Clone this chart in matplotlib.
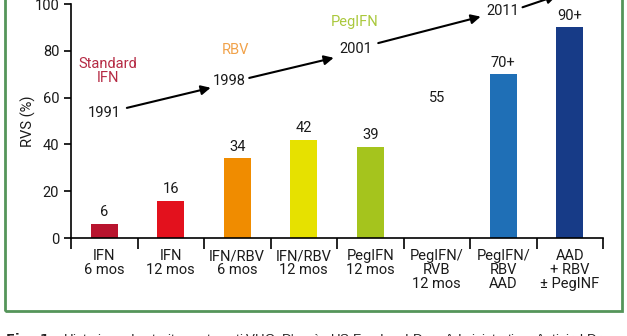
import matplotlib.pyplot as plt
from matplotlib.patches import Rectangle

# SVR rates by treatment era
categories = ["IFN\n6 mos", "IFN\n12 mos", "IFN/RBV\n6 mos", "IFN/RBV\n12 mos",
              "PegIFN\n12 mos", "PegIFN/\nRVB\n12 mos", "PegIFN/\nRBV\nAAD",
              "AAD\n+ RBV\n\u00b1 PegINF"]
rvs = [6, 16, 34, 42, 39, 55, 70, 90]
value_labels = ["6", "16", "34", "42", "39", "55", "70+", "90+"]
bar_colors = ["#b8142e", "#e3111d", "#f08c00", "#e6e100", "#a5c41d",
              "#ffffff", "#1f6fb6", "#173b87"]

# milestones along the timeline: (x, y, year), (x, y, drug label, colour)
years = [(0.0, 53.5, "1991"), (1.88, 67.0, "1998"),
         (3.79, 80.8, "2001"), (6.0, 96.8, "2011")]
drugs = [(0.05, 71.5, "Standard\nIFN", "#b52a44"),
         (1.97, 80.3, "RBV", "#f1a24a"),
         (3.76, 92.3, "PegIFN", "#aac83c")]
arrows = [((0.34, 55.6), (1.6, 64.2)),
          ((2.18, 68.4), (3.45, 77.0)),
          ((4.12, 83.3), (5.66, 94.6)),
          ((6.29, 98.6), (6.8, 103.5))]

plt.rcParams['font.family'] = ['Roboto', 'DejaVu Sans']

fig = plt.figure(figsize=(6.27, 3.36), dpi=100)
ax = fig.add_axes([71 / 627, 1 - 238 / 336, 532 / 627, 234 / 336])

xs = list(range(len(categories)))
ax.bar(xs, rvs, width=0.4, color=bar_colors, zorder=2)
for x, v, lab in zip(xs, rvs, value_labels):
    ax.text(x, v + 2, lab, ha="center", va="bottom", fontsize=10.5, color="#1a1a1a")

for x, y, t in years:
    ax.text(x, y, t, ha="center", va="center", fontsize=10.5, color="#1a1a1a")
for x, y, t, c in drugs:
    ax.text(x, y, t, ha="center", va="center", fontsize=10.5, color=c, linespacing=1.0)
for start, end in arrows:
    ax.annotate("", xy=end, xytext=start, annotation_clip=False,
                arrowprops=dict(arrowstyle="-|>", color="black", lw=1.5,
                                mutation_scale=14, shrinkA=0, shrinkB=0))

ax.set_xlim(-0.5, len(categories) - 0.5)
ax.set_ylim(0, 100)
ax.set_yticks([0, 20, 40, 60, 80, 100])
ax.set_xticks(xs)
ax.set_xticklabels(categories, fontsize=10.5, linespacing=1.0, color="#1a1a1a")
ax.set_xticks([x - 0.5 for x in range(len(categories) + 1)], minor=True)
ax.tick_params(axis="x", which="major", length=0, pad=8)
ax.tick_params(axis="x", which="minor", length=8, width=1.2, direction="out")
ax.tick_params(axis="y", length=5, width=1.2, labelsize=10.5, labelcolor="#1a1a1a")
ax.set_ylabel("RVS (%)", fontsize=10.5, color="#1a1a1a")
ax.yaxis.set_label_coords(-0.066, 0.5)
for s in ("top", "right"):
    ax.spines[s].set_visible(False)
for s in ("left", "bottom"):
    ax.spines[s].set_linewidth(1.2)

# green frame around the figure panel (its top edge lies above the page)
fig.patches.append(Rectangle((5 / 627, 1 - 311 / 336), 617 / 627, 1.0,
                             transform=fig.transFigure, fill=False,
                             edgecolor="#55955a", linewidth=2.0))

fig.text(5 / 627, 1 - 331 / 336,
         r"$\bf{Fig.\ 1:}$" + " Historique des traitements anti VHC. D'apr\u00e8s US Food "
         "and Drug Administration. Antiviral Drugs Advisory Committee",
         ha="left", va="top", fontsize=9.5, family="Liberation Sans", color="#222222")

fig.savefig("out.png", dpi=100)
